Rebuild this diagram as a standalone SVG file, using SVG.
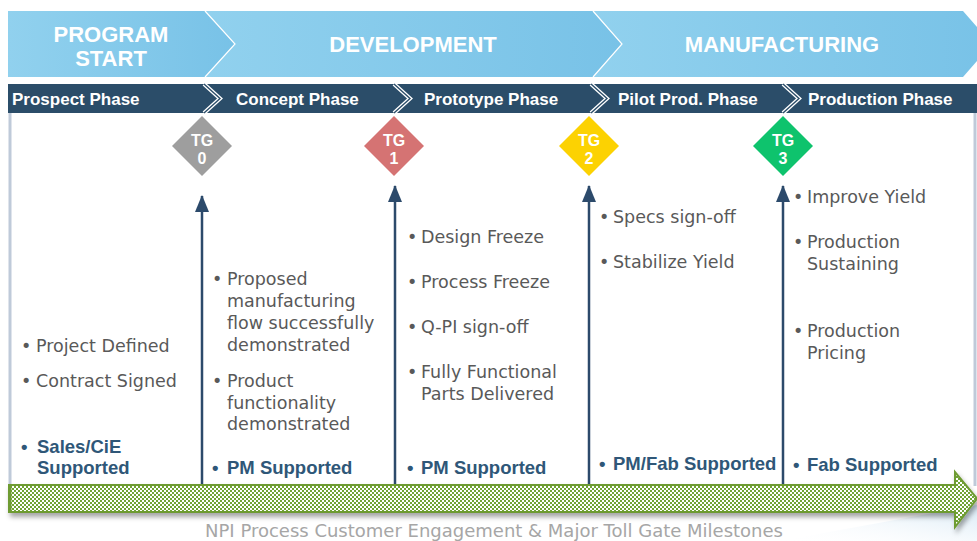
<svg xmlns="http://www.w3.org/2000/svg" width="977" height="541" viewBox="0 0 977 541">
<style>
.bn{font-family:"Liberation Sans",Arial,sans-serif;font-weight:bold;font-size:22px;fill:#fff;text-anchor:middle}
.ph{font-family:"Liberation Sans",Arial,sans-serif;font-weight:bold;font-size:17px;fill:#fff}
.tg{font-family:"Liberation Sans",Arial,sans-serif;font-weight:bold;font-size:16px;fill:#fff;text-anchor:middle}
.tx{font-family:"DejaVu Sans",sans-serif;font-size:17.5px;fill:#595959}
.sp{font-family:"Liberation Sans",Arial,sans-serif;font-weight:bold;font-size:18.5px;fill:#2F5778}
.cap{font-family:"DejaVu Sans",sans-serif;font-size:18px;fill:#A6A6A6;text-anchor:middle}
.conn{stroke:#2C4A6B;stroke-width:2.5;fill:none;marker-end:url(#ah)}
.chevW{fill:none;stroke:#fff;stroke-width:4}
.chevD{fill:none;stroke:#2B4D69;stroke-width:1.4}
</style>
<defs>
<linearGradient id="gb" x1="0" x2="1" y1="0" y2="0"><stop offset="0" stop-color="#91D1EE"/><stop offset="1" stop-color="#78C2E7"/></linearGradient>
<marker id="ah" viewBox="0 0 17 14" refX="16" refY="7" markerWidth="17" markerHeight="14" markerUnits="userSpaceOnUse" orient="auto">
<path d="M0,0 L17,7 L0,14 Z" fill="#2C4A6B"/>
</marker>
<pattern id="chk" width="4" height="4" patternUnits="userSpaceOnUse">
<rect width="4" height="4" fill="#fff"/><rect width="2" height="2" fill="#6FA336"/><rect x="2" y="2" width="2" height="2" fill="#6FA336"/>
</pattern>
<filter id="sh" x="-5%" y="-30%" width="110%" height="180%"><feDropShadow dx="2" dy="4" stdDeviation="2.5" flood-color="#000" flood-opacity="0.35"/></filter>
<linearGradient id="fade" x1="0" y1="1" x2="1" y2="0"><stop offset="0" stop-color="#fff" stop-opacity="0"/><stop offset="1" stop-color="#D6E8F5"/></linearGradient>
</defs>

<polygon points="780,541 977,505 977,541" fill="url(#fade)"/>

<g id="banner">
<polygon points="8,11 205,11 235,44 205,77 8,77" fill="url(#gb)"/>
<polygon points="205,11 593,11 622,44 593,77 205,77 235,44" fill="url(#gb)"/>
<polygon points="593,11 963,11 992,44 963,77 593,77 622,44" fill="url(#gb)"/>
<polyline points="205,11 235,44 205,77" fill="none" stroke="#fff" stroke-width="1.2"/>
<polyline points="593,11 622,44 593,77" fill="none" stroke="#fff" stroke-width="1.2"/>
<text class="bn" x="111" y="42">PROGRAM</text>
<text class="bn" x="111" y="66">START</text>
<text class="bn" x="413" y="52">DEVELOPMENT</text>
<text class="bn" x="782" y="52">MANUFACTURING</text>
</g>

<g id="phasebar">
<rect x="8" y="84" width="969" height="29" fill="#2B4D69"/>
<polyline class="chevW" points="204,84 220,98.5 204,113"/>
<polyline class="chevD" points="204,84 220,98.5 204,113"/>
<polyline class="chevW" points="394,84 410,98.5 394,113"/>
<polyline class="chevD" points="394,84 410,98.5 394,113"/>
<polyline class="chevW" points="591,84 607,98.5 591,113"/>
<polyline class="chevD" points="591,84 607,98.5 591,113"/>
<polyline class="chevW" points="783,84 799,98.5 783,113"/>
<polyline class="chevD" points="783,84 799,98.5 783,113"/>
<text class="ph" x="12" y="105">Prospect Phase</text>
<text class="ph" x="236" y="105">Concept Phase</text>
<text class="ph" x="424" y="105">Prototype Phase</text>
<text class="ph" x="618" y="105">Pilot Prod. Phase</text>
<text class="ph" x="808" y="105">Production Phase</text>
</g>

<g id="borders">
<line x1="10" y1="113" x2="10" y2="486" stroke="#BFCAD9" stroke-width="3"/>
<line x1="975" y1="113" x2="975" y2="486" stroke="#BFCAD9" stroke-width="3"/>
</g>

<g id="connectors">
<line class="conn" x1="202" y1="486" x2="202" y2="196"/>
<line class="conn" x1="395" y1="486" x2="395" y2="186"/>
<line class="conn" x1="589" y1="486" x2="589" y2="186"/>
<line class="conn" x1="783" y1="486" x2="783" y2="186"/>
</g>

<g id="tg0">
<polygon points="202,116 232,146 202,176 172,146" fill="#9E9E9E"/>
<text class="tg" x="202" y="146">TG</text><text class="tg" x="202" y="164">0</text>
</g>
<g id="tg1">
<polygon points="394,116 424,146 394,176 364,146" fill="#D57373"/>
<text class="tg" x="394" y="146">TG</text><text class="tg" x="394" y="164">1</text>
</g>
<g id="tg2">
<polygon points="589,116 619,146 589,176 559,146" fill="#FCD202"/>
<text class="tg" x="589" y="146">TG</text><text class="tg" x="589" y="164">2</text>
</g>
<g id="tg3">
<polygon points="783,116 813,146 783,176 753,146" fill="#0EC36D"/>
<text class="tg" x="783" y="146">TG</text><text class="tg" x="783" y="164">3</text>
</g>

<g id="col-prospect">
<text class="tx" x="21" y="352">•<tspan x="36">Project Defined</tspan></text>
<text class="tx" x="21" y="387">•<tspan x="36">Contract Signed</tspan></text>
<text class="sp" x="21" y="453">•<tspan x="37">Sales/CiE</tspan></text>
<text class="sp" x="37" y="474">Supported</text>
</g>

<g id="col-concept">
<text class="tx" x="212" y="285">•<tspan x="227">Proposed</tspan></text>
<text class="tx" x="227" y="307">manufacturing</text>
<text class="tx" x="227" y="329">flow successfully</text>
<text class="tx" x="227" y="351">demonstrated</text>
<text class="tx" x="212" y="387">•<tspan x="227">Product</tspan></text>
<text class="tx" x="227" y="409">functionality</text>
<text class="tx" x="227" y="430">demonstrated</text>
<text class="sp" x="212" y="474">•<tspan x="227">PM Supported</tspan></text>
</g>

<g id="col-prototype">
<text class="tx" x="407" y="243">•<tspan x="421">Design Freeze</tspan></text>
<text class="tx" x="407" y="288">•<tspan x="421">Process Freeze</tspan></text>
<text class="tx" x="407" y="333">•<tspan x="421">Q-PI sign-off</tspan></text>
<text class="tx" x="407" y="378">•<tspan x="421">Fully Functional</tspan></text>
<text class="tx" x="421" y="400">Parts Delivered</text>
<text class="sp" x="407" y="474">•<tspan x="421">PM Supported</tspan></text>
</g>

<g id="col-pilot">
<text class="tx" x="599" y="223">•<tspan x="613">Specs sign-off</tspan></text>
<text class="tx" x="599" y="268">•<tspan x="613">Stabilize Yield</tspan></text>
<text class="sp" x="599" y="470">•<tspan x="613">PM/Fab Supported</tspan></text>
</g>

<g id="col-production">
<text class="tx" x="793" y="203">•<tspan x="807">Improve Yield</tspan></text>
<text class="tx" x="793" y="248">•<tspan x="807">Production</tspan></text>
<text class="tx" x="807" y="270">Sustaining</text>
<text class="tx" x="793" y="337">•<tspan x="807">Production</tspan></text>
<text class="tx" x="807" y="359">Pricing</text>
<text class="sp" x="793" y="471">•<tspan x="807">Fab Supported</tspan></text>
</g>

<g id="timeline">
<polygon points="9,485 955,485 955,472 977,498.5 955,527 955,512 9,512" fill="url(#chk)" stroke="#6E9B32" stroke-width="2" filter="url(#sh)"/>
<line x1="10" y1="486" x2="10" y2="511" stroke="#6E9B32" stroke-width="3"/>
</g>

<text class="cap" x="494" y="537">NPI Process Customer Engagement &amp; Major Toll Gate Milestones</text>
</svg>
